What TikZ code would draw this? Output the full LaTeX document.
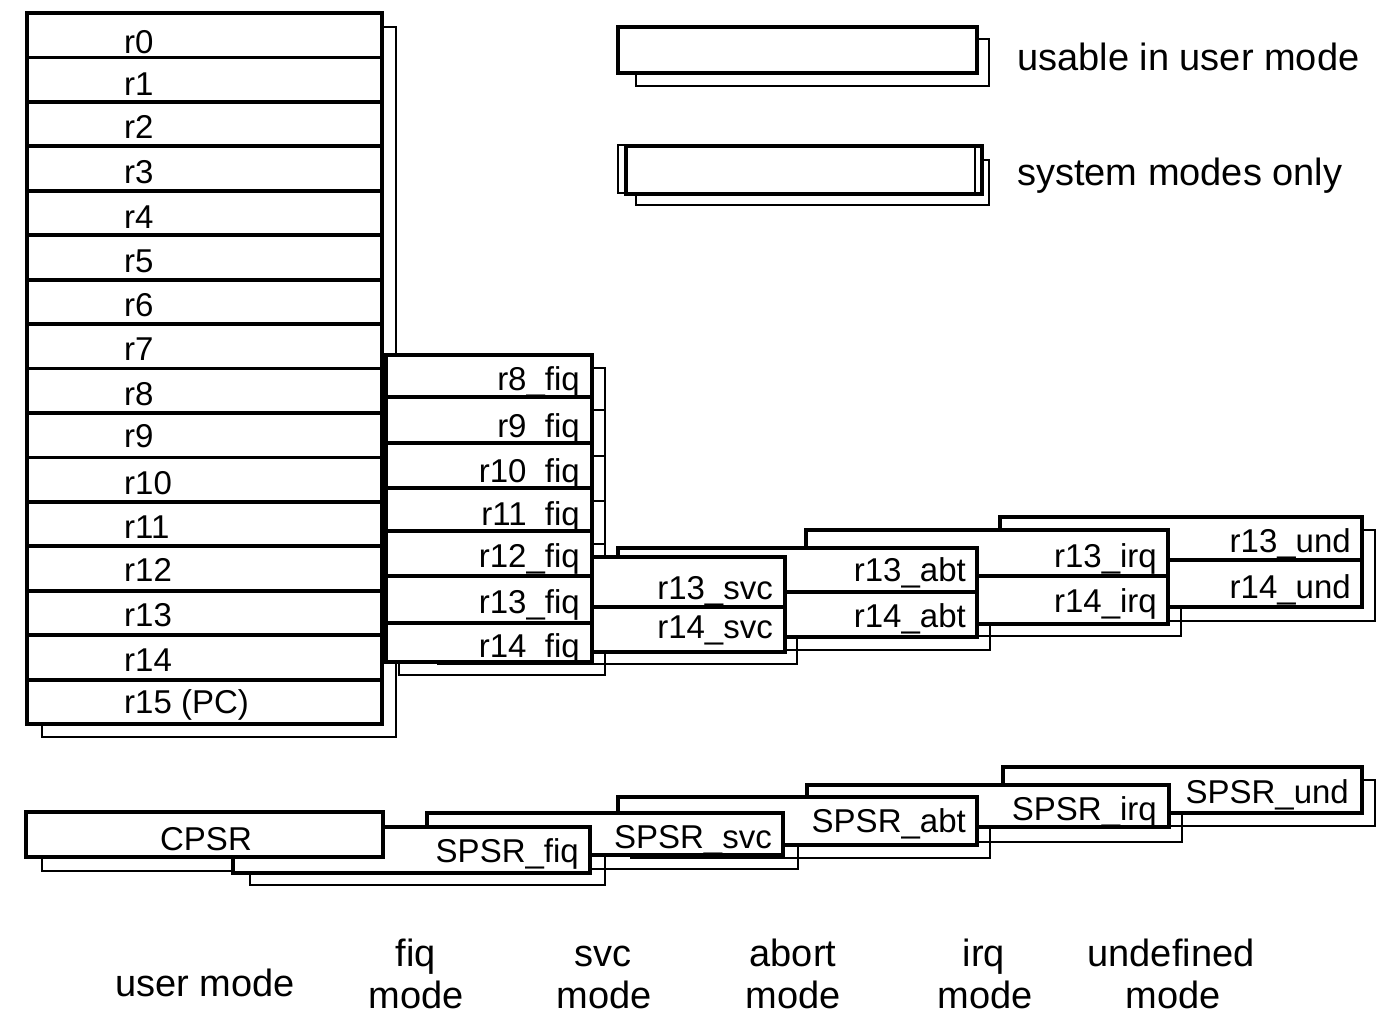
\documentclass[tikz,border=0pt]{standalone}
\usepackage{fontspec}
\setmainfont{Liberation Sans}
\newcommand{\regfont}{\fontsize{33}{38}\selectfont}
\newcommand{\labfont}{\fontsize{38}{44}\selectfont}
\begin{document}
\begin{tikzpicture}[x=1pt,y=-1pt,
  frame/.style={line width=4.5pt, fill=white},
  shade/.style={line width=1.6pt},
  divider/.style={line width=3.8pt},
  thinbox/.style={line width=1.6pt},
  reg/.style={font=\regfont, inner sep=0pt},
  lab/.style={font=\labfont, inner sep=0pt, text depth=0pt}]
\useasboundingbox (0,0) rectangle (1380,1014);

% ---------- shadows (drawn first) ----------
\draw[shade] (636,39) rectangle (989,86);
\draw[shade] (636,160) rectangle (989,205);
\draw[shade] (42,27) rectangle (396,737);
\foreach \t/\b in {355/397,397/443,443/488,488/531,531/576,576/623,623/662}
  \draw[shade] (399,{\t+13}) rectangle (605,{\b+13});
\draw[shade] (438,569) rectangle (797,664);
\draw[shade] (631,561) rectangle (990,650);
\draw[shade] (819,543) rectangle (1181,636);
\draw[shade] (1013,530) rectangle (1375,621);
% PSR shadows
\draw[shade] (42,826) rectangle (396,871);
\draw[shade] (250,840) rectangle (605,885);
\draw[shade] (440,826) rectangle (798,869);
\draw[shade] (631,810) rectangle (990,858);
\draw[shade] (820,798) rectangle (1182,842);
\draw[shade] (1016,780) rectangle (1375,826);

% ---------- legend ----------
\draw[frame] (618,27) rectangle (977,73);
\draw[frame] (626,146) rectangle (982,194);
\draw[thinbox] (618,145) rectangle (975,193);
\node[lab, anchor=base west] (leguser) at (1017,71) {usable in user mode};
\node[lab, anchor=base west] (legsys) at (1017,185) {system modes only};

% ---------- undefined bank ----------
\draw[frame] (1000,517) rectangle (1362,607);
\draw[divider] (1000,560) -- (1362,560);
\node[reg, anchor=base east] (und13) at (1351,552) {r13\_und};
\node[reg, anchor=base east] (und14) at (1351,598) {r14\_und};

% ---------- irq bank ----------
\draw[frame] (806,530) rectangle (1168,624);
\draw[divider] (806,576) -- (1168,576);
\node[reg, anchor=base east] (irq13) at (1157,567) {r13\_irq};
\node[reg, anchor=base east] (irq14) at (1157,612) {r14\_irq};

% ---------- abort bank ----------
\draw[frame] (618,548) rectangle (977,637);
\draw[divider] (618,592) -- (977,592);
\node[reg, anchor=base east] (abt13) at (966,581) {r13\_abt};
\node[reg, anchor=base east] (abt14) at (966,627) {r14\_abt};

% ---------- svc bank ----------
\draw[frame] (426,557) rectangle (785,652);
\draw[divider] (426,607) -- (785,607);
\node[reg, anchor=base east] (svc13) at (773,599) {r13\_svc};
\node[reg, anchor=base east] (svc14) at (773,638) {r14\_svc};

% ---------- fiq bank ----------
\draw[frame] (386,355) rectangle (592,662);
\foreach \y in {397,443,488,531,576,623}
  \draw[divider] (386,\y) -- (592,\y);
\foreach \n/\yb in {8/390,9/437,10/482,11/525,12/567,13/613,14/657}
  \node[reg, anchor=base east] (fiq\n) at (580,\yb) {r\n\_fiq};

% ---------- user bank ----------
\draw[frame] (27,13) rectangle (382,724);
\foreach \k in {1,...,15}
  \draw[divider] (27,{13+44.44*\k}) -- (382,{13+44.44*\k});
\foreach \lab/\yb [count=\i from 0] in {r0/54,r1/96,r2/139,r3/183,r4/228,r5/272,r6/316,r7/360,r8/405,r9/447,r10/494,r11/538,r12/581,r13/626,r14/671,{r15 (PC)}/713}
  \node[reg, anchor=base west] (usr\i) at (124,\yb) {\lab};

% ---------- program status registers ----------
\draw[frame] (1003,767) rectangle (1362,813);
\node[reg, anchor=base east] (spsrund) at (1349,803) {SPSR\_und};
\draw[frame] (807,785) rectangle (1169,827);
\node[reg, anchor=base east] (spsrirq) at (1157,820) {SPSR\_irq};
\draw[frame] (618,797) rectangle (977,845);
\node[reg, anchor=base east] (spsrabt) at (966,832) {SPSR\_abt};
\draw[frame] (427,813) rectangle (783,855);
\node[reg, anchor=base east] (spsrsvc) at (772,848) {SPSR\_svc};
\draw[frame] (233,827) rectangle (590,873);
\node[reg, anchor=base east] (spsrfiq) at (579,862) {SPSR\_fiq};
\draw[frame] (26,812) rectangle (383,857);
\node[reg, anchor=base] (cpsr) at (206,850) {CPSR};

% ---------- mode labels ----------
\node[lab, anchor=base] (musr) at (205,996) {user mode};
\node[lab, anchor=base] (mfiqa) at (416,966) {fiq};
\node[lab, anchor=base] (mfiqb) at (416,1008) {mode};
\node[lab, anchor=base] (msvca) at (603,966) {svc};
\node[lab, anchor=base] (msvcb) at (604,1008) {mode};
\node[lab, anchor=base] (mabta) at (793,966) {abort};
\node[lab, anchor=base] (mabtb) at (793,1008) {mode};
\node[lab, anchor=base] (mirqa) at (984,966) {irq};
\node[lab, anchor=base] (mirqb) at (985,1008) {mode};
\node[lab, anchor=base] (munda) at (1171,966) {undefined};
\node[lab, anchor=base] (mundb) at (1173,1008) {mode};
\end{tikzpicture}
\end{document}
